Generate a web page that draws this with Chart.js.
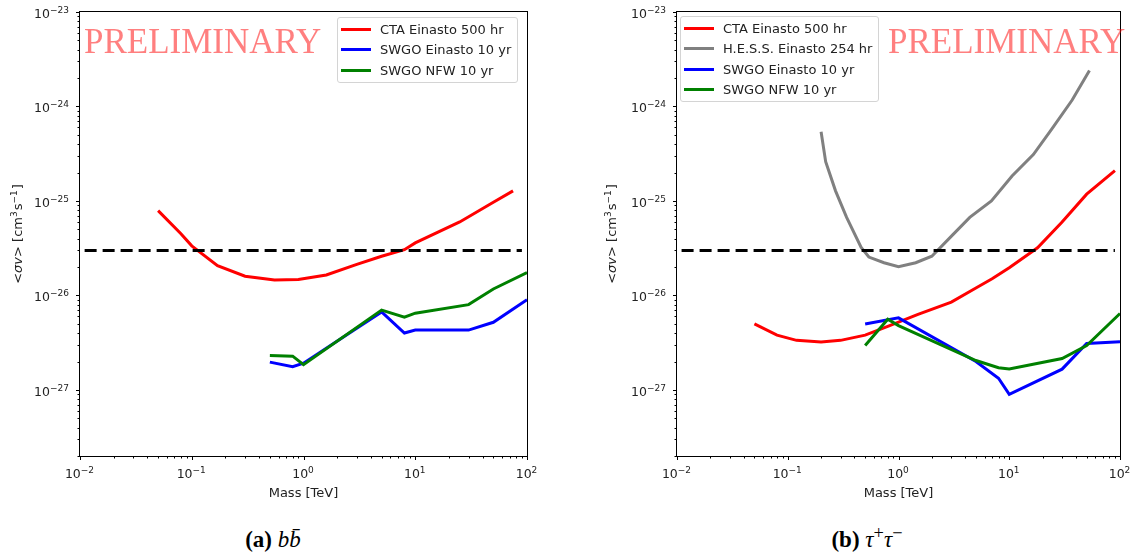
<!DOCTYPE html>
<html>
<head>
<meta charset="utf-8">
<script src="https://cdn.jsdelivr.net/npm/chart.js@4.4.1/dist/chart.umd.min.js"></script>
<style>
  body { margin: 0; background: #fff; width: 1136px; height: 558px; position: relative; overflow: hidden;
         font-family: "DejaVu Sans", sans-serif; color: #222; }
  canvas { position: absolute; top: 0; }
  .legend { position: absolute; background: rgba(255,255,255,0.8); border: 1px solid #d4d4d4; border-radius: 3px;
            padding: 1px 6px 1px 3px; font-size: 13px; z-index: 2; }
  .legend .row { height: 20.5px; display: flex; align-items: center; white-space: nowrap; }
  .legend .swatch { width: 30px; height: 3px; margin-right: 9px; }
  .prelim { position: absolute; font-family: "Liberation Serif", "Times New Roman", serif; font-size: 35px;
            line-height: 35px; color: rgba(255,0,0,0.5); white-space: nowrap; z-index: 3; }
  .caption { position: absolute; width: 260px; text-align: center; top: 527px; line-height: 26px;
             font-family: "Liberation Serif", "Times New Roman", serif; font-size: 23px; color: #000; }
  .caption sup { font-size: 0.8em; vertical-align: 0.45em; line-height: 0; }
</style>
</head>
<body>
<canvas id="bbChart" width="560" height="510" style="left:0"></canvas>
<canvas id="ttChart" width="539" height="510" style="left:597px"></canvas>
<div class="legend" id="bbLegend" style="left:337px; top:17px"></div>
<div class="legend" id="ttLegend" style="left:680px; top:16px"></div>
<div class="prelim" style="left:84px; top:24px">PRELIMINARY</div>
<div class="prelim" style="left:888px; top:24px">PRELIMINARY</div>
<div class="caption" style="left:143px"><b>(a)</b> <i>b</i><i>b&#772;</i></div>
<div class="caption" style="left:737px"><b>(b)</b> <i>τ</i><sup>+</sup><i>τ</i><sup>−</sup></div>
<script>
// ---- b bbar channel ----
const bbCtaMass = [0.05, 0.08, 0.1, 0.17, 0.3, 0.55, 0.9, 1.6, 3, 5, 8, 10, 25, 50, 75];
const bbCtaSigv = [7.9e-26, 4.5e-26, 3.35e-26, 2.07e-26, 1.6e-26, 1.46e-26, 1.48e-26, 1.65e-26, 2.13e-26, 2.6e-26, 3.05e-26, 3.6e-26, 6.0e-26, 9.7e-26, 1.28e-25];
const bbSwgoEinMass = [0.5, 0.8, 1, 5, 8, 10, 30, 50, 100];
const bbSwgoEinSigv = [1.97e-27, 1.76e-27, 1.92e-27, 6.7e-27, 4.0e-27, 4.3e-27, 4.3e-27, 5.2e-27, 9.0e-27];
const bbSwgoNfwMass = [0.5, 0.8, 1, 5, 8, 10, 30, 50, 100];
const bbSwgoNfwSigv = [2.32e-27, 2.28e-27, 1.85e-27, 7.0e-27, 5.9e-27, 6.5e-27, 8.0e-27, 1.17e-26, 1.75e-26];

// ---- tau+ tau- channel ----
const ttCtaMass = [0.05, 0.08, 0.12, 0.2, 0.3, 0.5, 0.8, 1.5, 3, 5, 7, 10, 18, 30, 50, 90];
const ttCtaSigv = [5.0e-27, 3.8e-27, 3.35e-27, 3.22e-27, 3.35e-27, 3.8e-27, 4.7e-27, 6.3e-27, 8.5e-27, 1.2e-26, 1.5e-26, 1.97e-26, 3.2e-26, 6.0e-26, 1.18e-25, 2.1e-25];
const ttHessMass = [0.2, 0.22, 0.27, 0.34, 0.46, 0.54, 0.74, 1.0, 1.43, 2.0, 3.1, 4.4, 6.9, 10.6, 16.5, 24, 37, 53];
const ttHessSigv = [5.4e-25, 2.6e-25, 1.28e-25, 6.7e-26, 3.22e-26, 2.55e-26, 2.22e-26, 2.02e-26, 2.22e-26, 2.6e-26, 4.4e-26, 6.7e-26, 1.0e-25, 1.84e-25, 3.1e-25, 5.7e-25, 1.17e-24, 2.4e-24];
const ttSwgoEinMass = [0.5, 1, 5, 8, 10, 30, 50, 100];
const ttSwgoEinSigv = [5.0e-27, 5.8e-27, 2.0e-27, 1.33e-27, 9.0e-28, 1.66e-27, 3.1e-27, 3.24e-27];
const ttSwgoNfwMass = [0.5, 0.8, 1, 5, 8, 10, 30, 50, 100];
const ttSwgoNfwSigv = [2.95e-27, 5.6e-27, 4.8e-27, 2.05e-27, 1.72e-27, 1.67e-27, 2.15e-27, 2.95e-27, 6.45e-27];

// thermal relic reference line
const thermalMass = [0.011, 90];
const thermalSigv = [3e-26, 3e-26];

const massRange = [0.01, 100];
const sigvRange = [2e-28, 1e-23];

const FONT = '"DejaVu Sans", sans-serif';
const isDecade = v => { const l = Math.log10(v); return Math.abs(l - Math.round(l)) < 1e-6; };
const expText = v => String(Math.round(Math.log10(v))).replace('-', '−');

function logTicks(min, max) {
  const out = [];
  for (let e = Math.floor(Math.log10(min)); e <= Math.ceil(Math.log10(max)); e++) {
    for (let k = 1; k <= 9; k++) {
      const v = k * Math.pow(10, e);
      if (v >= min * 0.999999 && v <= max * 1.000001) out.push({ value: v });
    }
  }
  return out;
}

function series(label, color, mass, sigv, dash) {
  return {
    label: label,
    data: mass.map((m, i) => ({ x: m, y: sigv[i] })),
    borderColor: color,
    borderWidth: 3,
    borderDash: dash || [],
    pointRadius: 0,
    tension: 0,
    fill: false
  };
}

// draws text runs [text, size, italic, raise] one after another from x along baseline y
function runs(ctx, parts, x, y) {
  parts.forEach(p => {
    ctx.font = (p[2] ? 'italic ' : '') + p[1] + 'px ' + FONT;
    ctx.fillText(p[0], x, y - (p[3] || 0));
    x += ctx.measureText(p[0]).width + (p[3] ? 1 : 0);
  });
}
function runsWidth(ctx, parts) {
  let w = 0;
  parts.forEach(p => { ctx.font = (p[2] ? 'italic ' : '') + p[1] + 'px ' + FONT; w += ctx.measureText(p[0]).width + (p[3] ? 1 : 0); });
  return w;
}
const powParts = v => [['10', 12.5], [expText(v), 9, false, 5]];

// frame on all four sides, matplotlib-like major/minor ticks, 10^n labels and y title
const frameTicks = {
  id: 'frameTicks',
  afterDraw(chart, args, opts) {
    const { ctx, chartArea: a } = chart;
    const xs = chart.scales.x, ys = chart.scales.y;
    ctx.save();
    ctx.strokeStyle = '#000';
    ctx.lineWidth = 1;
    ctx.strokeRect(Math.round(a.left) - 0.5, Math.round(a.top) - 0.5, Math.round(a.right - a.left) + 1, Math.round(a.bottom - a.top) + 1);
    ctx.beginPath();
    xs.ticks.forEach(t => {
      const p = Math.round(xs.getPixelForValue(t.value)) + 0.5;
      const len = isDecade(t.value) ? 4 : 2.5;
      ctx.moveTo(p, a.bottom); ctx.lineTo(p, a.bottom + len);
    });
    ys.ticks.forEach(t => {
      const p = Math.round(ys.getPixelForValue(t.value)) + 0.5;
      const len = isDecade(t.value) ? 4 : 2.5;
      ctx.moveTo(a.left, p); ctx.lineTo(a.left - len, p);
    });
    ctx.stroke();

    ctx.fillStyle = '#222';
    ctx.textBaseline = 'alphabetic';
    ctx.textAlign = 'left';
    xs.ticks.filter(t => isDecade(t.value)).forEach(t => {
      const parts = powParts(t.value);
      const p = xs.getPixelForValue(t.value);
      runs(ctx, parts, p - runsWidth(ctx, parts) / 2, a.bottom + 22);
    });
    ys.ticks.filter(t => isDecade(t.value)).forEach(t => {
      const parts = powParts(t.value);
      const p = ys.getPixelForValue(t.value);
      runs(ctx, parts, a.left - 10 - runsWidth(ctx, parts), p + 5.7);
    });

    const title = [['<', 13], ['σv', 13, true], ['> [cm', 13], ['3', 9, false, 5], ['s', 13], ['−1', 9, false, 5], [']', 13]];
    ctx.translate(a.left - opts.titleGap, (a.top + a.bottom) / 2);
    ctx.rotate(-Math.PI / 2);
    runs(ctx, title, -runsWidth(ctx, title) / 2, 0);
    ctx.restore();
  }
};

Chart.defaults.font.family = FONT;
Chart.defaults.font.size = 13;
Chart.defaults.color = '#222';

function makeChart(id, legendId, datasets, rightPad, titleGap) {
  const n = datasets.length;
  datasets.forEach((d, i) => { d.order = n - i; });
  const chart = new Chart(document.getElementById(id), {
    type: 'line',
    data: { datasets: datasets },
    options: {
      responsive: false,
      animation: false,
      devicePixelRatio: 1,
      layout: { padding: { left: 0, right: rightPad, top: 12, bottom: 0 } },
      plugins: { legend: { display: false }, tooltip: { enabled: false }, frameTicks: { titleGap: titleGap } },
      scales: {
        x: {
          type: 'logarithmic',
          min: massRange[0], max: massRange[1],
          grid: { display: false, drawTicks: false },
          border: { display: false },
          afterBuildTicks: s => { s.ticks = logTicks(s.min, s.max); },
          afterFit: s => { s.height = 54; },
          ticks: { display: false },
          title: { display: true, text: 'Mass [TeV]', padding: { top: 0, bottom: 9 } }
        },
        y: {
          type: 'logarithmic',
          min: sigvRange[0], max: sigvRange[1],
          grid: { display: false, drawTicks: false },
          border: { display: false },
          afterBuildTicks: s => { s.ticks = logTicks(s.min, s.max); },
          afterFit: s => { s.width = 80; },
          ticks: { display: false }
        }
      }
    },
    plugins: [frameTicks]
  });
  const box = document.getElementById(legendId);
  datasets.filter(d => d.label).forEach(d => {
    const row = document.createElement('div');
    row.className = 'row';
    row.innerHTML = '<span class="swatch" style="background:' + d.borderColor + '"></span><span>' + d.label + '</span>';
    box.appendChild(row);
  });
  return chart;
}

makeChart('bbChart', 'bbLegend', [
  series('CTA Einasto 500 hr', '#ff0000', bbCtaMass, bbCtaSigv),
  series('SWGO Einasto 10 yr', '#0000ff', bbSwgoEinMass, bbSwgoEinSigv),
  series('SWGO NFW 10 yr', '#008000', bbSwgoNfwMass, bbSwgoNfwSigv),
  series('', '#000000', thermalMass, thermalSigv, [12, 6])
], 33, 58);

makeChart('ttChart', 'ttLegend', [
  series('CTA Einasto 500 hr', '#ff0000', ttCtaMass, ttCtaSigv),
  series('H.E.S.S. Einasto 254 hr', '#808080', ttHessMass, ttHessSigv),
  series('SWGO Einasto 10 yr', '#0000ff', ttSwgoEinMass, ttSwgoEinSigv),
  series('SWGO NFW 10 yr', '#008000', ttSwgoNfwMass, ttSwgoNfwSigv),
  series('', '#000000', thermalMass, thermalSigv, [12, 6])
], 16, 61);
</script>
</body>
</html>
